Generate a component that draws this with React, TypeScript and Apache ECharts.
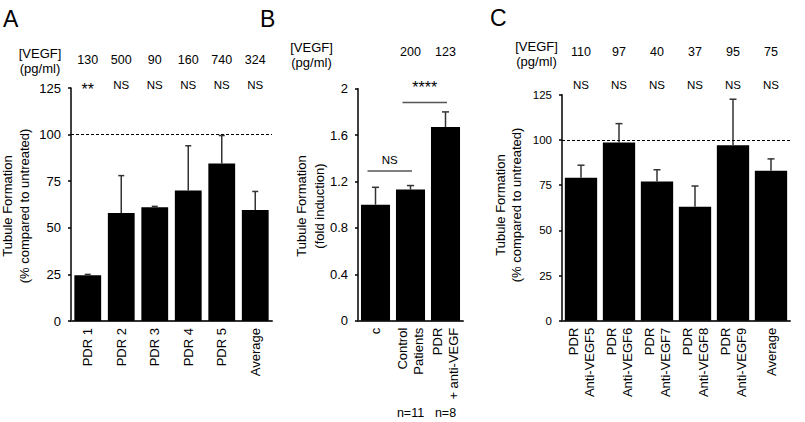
import React, { useEffect, useRef } from "react";
import * as echarts from "echarts";

const FONT = '"Liberation Sans", Arial, Helvetica, sans-serif';

// Panel A
const catsA = ["PDR 1", "PDR 2", "PDR 3", "PDR 4", "PDR 5", "Average"];
const valA = [24.5, 58, 61, 70, 84.5, 59.5];
const errA = [0.5, 20, 0.5, 24, 15, 10];
const vegfA = ["130", "500", "90", "160", "740", "324"];
const sigA = ["**", "NS", "NS", "NS", "NS", "NS"];

// Panel B
const catsB = ["c", "Control\nPatients", "PDR\n+ anti-VEGF"];
const valB = [1.0, 1.13, 1.67];
const errB = [0.15, 0.035, 0.13];
const vegfB = ["", "200", "123"];
const nB = ["", "n=11", "n=8"];
const sigB: [number, number, number, string][] = [
  [0, 1, 1.29, "NS"],
  [1, 2, 1.88, "****"],
];

// Panel C
const catsC = [
  "PDR\nAnti-VEGF5",
  "PDR\nAnti-VEGF6",
  "PDR\nAnti-VEGF7",
  "PDR\nAnti-VEGF8",
  "PDR\nAnti-VEGF9",
  "Average",
];
const valC = [79, 98.5, 77, 63, 97, 83];
const errC = [7, 10.5, 6.5, 11.5, 25.5, 6.5];
const vegfC = ["110", "97", "40", "37", "95", "75"];
const sigC = ["NS", "NS", "NS", "NS", "NS", "NS"];

const refLine = 100;

function errSeries(idx: number, vals: number[], errs: number[], cap: number) {
  return {
    type: "custom",
    xAxisIndex: idx,
    yAxisIndex: idx,
    z: 3,
    encode: { x: 0, y: 1 },
    data: vals.map((v, i) => [i, v, errs[i]]),
    renderItem: (params: any, api: any) => {
      const i = api.value(0);
      const v = api.value(1);
      const e = api.value(2);
      const base = api.coord([i, v]);
      const top = api.coord([i, v + e]);
      const st = { stroke: "#333", lineWidth: 1.5 };
      return {
        type: "group",
        children: [
          { type: "line", shape: { x1: top[0], y1: base[1], x2: top[0], y2: top[1] }, style: st },
          { type: "line", shape: { x1: top[0] - cap, y1: top[1], x2: top[0] + cap, y2: top[1] }, style: st },
        ],
      };
    },
  };
}

function headerSeries(
  idx: number,
  n: number,
  rows: { texts: string[]; y: number; size: number }[]
) {
  return {
    type: "custom",
    xAxisIndex: idx,
    yAxisIndex: idx,
    clip: false,
    silent: true,
    encode: { x: 0, y: 1 },
    data: Array.from({ length: n }, (_, i) => [i, 0]),
    renderItem: (params: any, api: any) => {
      const i = params.dataIndex;
      const x = api.coord([api.value(0), 0])[0];
      return {
        type: "group",
        children: rows.map((r) => ({
          type: "text",
          x,
          y: r.y,
          style: {
            text: r.texts[i],
            fontSize: r.size,
            fontFamily: FONT,
            fill: "#000",
            align: "center",
            verticalAlign: "middle",
          },
        })),
      };
    },
  };
}

export default function App() {
  const ref = useRef<HTMLDivElement>(null);
  useEffect(() => {
    const chart = echarts.init(ref.current!, undefined, { renderer: "svg" });

    const xAxisBase = (idx: number, data: string[]) => ({
      type: "category",
      gridIndex: idx,
      data,
      axisLine: { show: true, lineStyle: { color: "#333", width: 2 } },
      axisTick: { show: false },
      axisLabel: {
        rotate: 90,
        interval: 0,
        fontSize: 13,
        color: "#000",
        margin: 7,
        fontFamily: FONT,
        lineHeight: 16,
      },
      splitLine: { show: false },
    });
    const yAxisBase = (idx: number, max: number, interval: number, fs: number) => ({
      type: "value",
      gridIndex: idx,
      min: 0,
      max,
      interval,
      axisLine: { show: true, lineStyle: { color: "#000", width: 1.5 } },
      axisTick: { show: true, length: 3, lineStyle: { color: "#000", width: 1.5 } },
      axisLabel: { fontSize: fs, color: "#000", margin: 10, fontFamily: FONT },
      splitLine: { show: false },
    });

    const markLine = {
      silent: true,
      symbol: ["none", "none"],
      label: { show: false },
      lineStyle: { type: [3, 2], color: "#000", width: 1 },
      data: [{ yAxis: refLine }],
    };

    const title = (x: number, y: number, text: string, lh: number) => ({
      type: "text",
      x,
      y,
      rotation: Math.PI / 2,
      style: {
        text,
        fontSize: 13,
        fontFamily: FONT,
        fill: "#000",
        align: "center",
        verticalAlign: "middle",
        lineHeight: lh,
      },
    });
    const plain = (x: number, y: number, text: string, size: number) => ({
      type: "text",
      x,
      y,
      style: {
        text,
        fontSize: size,
        fontFamily: FONT,
        fill: "#000",
        align: "center",
        verticalAlign: "middle",
        lineHeight: 15,
      },
    });

    chart.setOption({
      animation: false,
      backgroundColor: "#fff",
      textStyle: { fontFamily: FONT },
      grid: [
        { left: 71, top: 88, width: 201, height: 233 },
        { left: 358, top: 88.7, width: 105, height: 232 },
        { left: 562, top: 94.7, width: 228, height: 226 },
      ],
      xAxis: [xAxisBase(0, catsA), xAxisBase(1, catsB), xAxisBase(2, catsC)],
      yAxis: [yAxisBase(0, 125, 25, 13), yAxisBase(1, 2, 0.4, 13), yAxisBase(2, 125, 25, 11.5)],
      graphic: [
        { type: "text", left: 3, top: 7, style: { text: "A", fontSize: 23, fontFamily: FONT, fill: "#000" } },
        { type: "text", left: 260, top: 7, style: { text: "B", fontSize: 23, fontFamily: FONT, fill: "#000" } },
        { type: "text", left: 490, top: 6, style: { text: "C", fontSize: 23, fontFamily: FONT, fill: "#000" } },
        plain(40, 60.5, "[VEGF]\n(pg/ml)", 13),
        plain(311.5, 54.5, "[VEGF]\n(pg/ml)", 13),
        plain(536.5, 54, "[VEGF]\n(pg/ml)", 13),
        title(16, 206, "Tubule Formation\n(% compared to untreated)", 16.5),
        title(310, 206, "Tubule Formation\n(fold induction)", 18),
        title(508.5, 205, "Tubule Formation\n(% compared to untreated)", 15.5),
      ],
      series: [
        {
          type: "bar",
          xAxisIndex: 0,
          yAxisIndex: 0,
          data: valA,
          barCategoryGap: "20%",
          itemStyle: { color: "#000" },
          markLine,
        },
        errSeries(0, valA, errA, 3),
        headerSeries(0, catsA.length, [
          { texts: vegfA, y: 60, size: 12.5 },
          { texts: sigA.map((s) => (s === "**" ? "" : s)), y: 85, size: 11.5 },
          { texts: sigA.map((s) => (s === "**" ? s : "")), y: 89, size: 16 },
        ]),
        {
          type: "bar",
          xAxisIndex: 1,
          yAxisIndex: 1,
          data: valB,
          barCategoryGap: "17%",
          itemStyle: { color: "#000" },
        },
        errSeries(1, valB, errB, 3.5),
        headerSeries(1, catsB.length, [
          { texts: vegfB, y: 52, size: 12.5 },
          { texts: nB, y: 413, size: 12.5 },
        ]),
        {
          type: "custom",
          xAxisIndex: 1,
          yAxisIndex: 1,
          clip: false,
          silent: true,
          encode: { x: 0, y: 2 },
          data: sigB,
          renderItem: (params: any, api: any) => {
            const a = api.value(0);
            const b = api.value(1);
            const yv = api.value(2);
            const label = sigB[params.dataIndex][3];
            const p1 = api.coord([a, yv]);
            const p2 = api.coord([b, yv]);
            const x1 = p1[0] - 8;
            const x2 = p2[0] + 1.5;
            const stars = label.indexOf("*") >= 0;
            return {
              type: "group",
              children: [
                {
                  type: "line",
                  shape: { x1, y1: p1[1], x2, y2: p1[1] },
                  style: { stroke: "#555", lineWidth: 1.5 },
                },
                {
                  type: "text",
                  x: (x1 + x2) / 2,
                  y: p1[1] - (stars ? 15 : 11),
                  style: {
                    text: label,
                    fontSize: stars ? 16 : 11.5,
                    fontFamily: FONT,
                    fill: "#000",
                    align: "center",
                    verticalAlign: "middle",
                  },
                },
              ],
            };
          },
        },
        {
          type: "bar",
          xAxisIndex: 2,
          yAxisIndex: 2,
          data: valC,
          barCategoryGap: "15%",
          itemStyle: { color: "#000" },
          markLine,
        },
        errSeries(2, valC, errC, 3.5),
        headerSeries(2, catsC.length, [
          { texts: vegfC, y: 52, size: 12.5 },
          { texts: sigC, y: 85, size: 11.5 },
        ]),
      ],
    });
    return () => chart.dispose();
  }, []);

  return (
    <div
      ref={ref}
      style={{ position: "fixed", left: 0, top: 0, width: 805, height: 422, background: "#fff" }}
    />
  );
}
